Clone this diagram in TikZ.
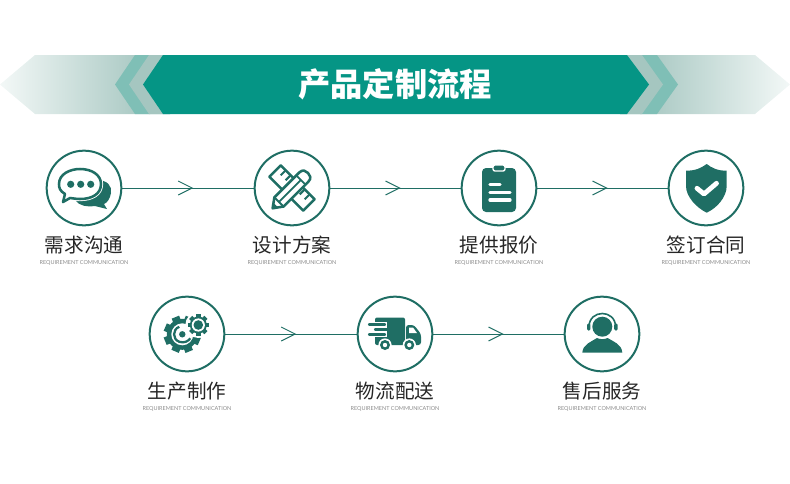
\documentclass[tikz,border=0pt]{standalone}
\usepackage{fontspec}
\setmainfont{Lato}
\newfontfamily\cjk{Noto Sans CJK SC}
\usetikzlibrary{positioning,arrows.meta,decorations.markings}
\definecolor{bannerteal}{HTML}{059585}
\definecolor{stepteal}{HTML}{1F6E64}
\definecolor{chevronone}{HTML}{7FBFB6}
\definecolor{chevrontwo}{HTML}{A5C6C0}
\definecolor{bannerpale}{HTML}{F3F8F7}
\definecolor{bannermid}{HTML}{E2EEEB}
\tikzset{
  stepcircle/.style={circle,draw=stepteal,line width=1.5pt,minimum size=56pt,inner sep=0pt},
  steplabel/.style={font=\cjk\fontsize{14.7pt}{15pt}\selectfont,text=black!85,inner sep=0pt},
  stepsub/.style={font=\fontsize{4.13pt}{4.5pt}\selectfont,text=black!45,inner sep=0pt},
  flowline/.style={draw=stepteal,line width=.65pt,postaction={decorate},decoration={markings,
    mark=at position .54 with {\arrow[line width=.75pt]{Straight Barb[length=10.5pt,width=10.5pt]}}}},
  iconfill/.style={fill=stepteal},
  iconline/.style={draw=stepteal,line width=1.9pt,fill=white,line join=round},
  iconcut/.style={draw=white,line width=2.5pt,line cap=round}
}
\begin{document}
\begin{tikzpicture}[x=.75pt,y=-.75pt]
\useasboundingbox (0,0) rectangle (790,483);

\shade[left color=bannerpale,middle color=bannermid,right color=chevrontwo] (0,84.5) -- (35,55) -- (150,55) -- (150,114) -- (35,114) -- cycle;
\shade[right color=bannerpale,middle color=bannermid,left color=chevrontwo] (790,84.5) -- (755,55) -- (640,55) -- (640,114) -- (755,114) -- cycle;
\fill[chevronone] (135,55) -- (115,84.5) -- (135,114) -- (170,114) -- (170,55) -- cycle;
\fill[chevrontwo] (149,55) -- (129,84.5) -- (149,114) -- (170,114) -- (170,55) -- cycle;
\fill[chevronone] (657,55) -- (678,84.5) -- (657,114) -- (620,114) -- (620,55) -- cycle;
\fill[chevrontwo] (642,55) -- (663,84.5) -- (642,114) -- (620,114) -- (620,55) -- cycle;
\fill[bannerteal] (163,55) -- (143,84.5) -- (163,114) -- (627,114) -- (649,84.5) -- (627,55) -- cycle;
\node (title) at (395,84.5) [text=white,inner sep=0pt,font=\cjk\bfseries\fontsize{24.2pt}{26pt}\selectfont] {产品定制流程};

\node (xuqiu) at (84,188) [stepcircle] {};
\node (sheji) at (292,188) [stepcircle] {};
\node (baojia) at (499,188) [stepcircle] {};
\node (hetong) at (706,188) [stepcircle] {};
\node (shengchan) at (187,334) [stepcircle] {};
\node (wuliu) at (395,334) [stepcircle] {};
\node (shouhou) at (602,334) [stepcircle] {};

\node (xuqiulabel) [steplabel,below=7pt of xuqiu] {需求沟通};
\node (shejilabel) [steplabel,below=7pt of sheji] {设计方案};
\node (baojialabel) [steplabel,below=7pt of baojia] {提供报价};
\node (hetonglabel) [steplabel,below=7pt of hetong] {签订合同};
\node (shengchanlabel) [steplabel,below=7pt of shengchan] {生产制作};
\node (wuliulabel) [steplabel,below=7pt of wuliu] {物流配送};
\node (shouhoulabel) [steplabel,below=7pt of shouhou] {售后服务};

\node (xuqiusub) [stepsub,below=4.2pt of xuqiulabel] {REQUIREMENT COMMUNICATION};
\node (shejisub) [stepsub,below=4.2pt of shejilabel] {REQUIREMENT COMMUNICATION};
\node (baojiasub) [stepsub,below=4.2pt of baojialabel] {REQUIREMENT COMMUNICATION};
\node (hetongsub) [stepsub,below=4.2pt of hetonglabel] {REQUIREMENT COMMUNICATION};
\node (shengchansub) [stepsub,below=4.2pt of shengchanlabel] {REQUIREMENT COMMUNICATION};
\node (wuliusub) [stepsub,below=4.2pt of wuliulabel] {REQUIREMENT COMMUNICATION};
\node (shouhousub) [stepsub,below=4.2pt of shouhoulabel] {REQUIREMENT COMMUNICATION};

\draw[flowline] (xuqiu) -- (sheji);
\draw[flowline] (sheji) -- (baojia);
\draw[flowline] (baojia) -- (hetong);
\draw[flowline] (shengchan) -- (wuliu);
\draw[flowline] (wuliu) -- (shouhou);

\begin{scope}[shift={(xuqiu.center)}]
  \fill[iconfill] (12,-8) .. controls (24,-8) and (28,-2) .. (27,5) .. controls (26,11) and (23,15) .. (20,16) -- (23,21) -- (11,18) .. controls (3,19) and (-5,18) .. (-9,12) -- cycle;
  \draw[white,line width=3.2pt,fill=white] (-25,-4) .. controls (-25,-14) and (-14,-19) .. (-4,-19) .. controls (8,-19) and (17,-13) .. (17,-4) .. controls (17,6) and (8,11) .. (-4,11) .. controls (-9,11) and (-12,10) .. (-14,10) -- (-21,14) -- (-19,6) .. controls (-24,3) and (-25,0) .. (-25,-4) -- cycle;
  \draw[iconline] (-25,-4) .. controls (-25,-14) and (-14,-19) .. (-4,-19) .. controls (8,-19) and (17,-13) .. (17,-4) .. controls (17,6) and (8,11) .. (-4,11) .. controls (-9,11) and (-12,10) .. (-14,10) -- (-21,14) -- (-19,6) .. controls (-24,3) and (-25,0) .. (-25,-4) -- cycle;
  \fill[iconfill] (-13.3,-3.7) circle[radius=3.6] (-3.3,-3.7) circle[radius=3.6] (6.7,-3.7) circle[radius=3.6];
\end{scope}

\begin{scope}[shift={(sheji.center)}]
  \begin{scope}[rotate=-45]
    \draw[iconline] (-24,-8) rectangle (24,8);
    \foreach \tick in {-17,-10,10,17}
      \draw[stepteal,line width=1.5pt] (\tick,-8) -- (\tick,-1);
  \end{scope}
  \begin{scope}[shift={(-1.7,2.6)},rotate=45]
    \draw[iconline] (-25,0) -- (-16,-6.5) -- (19,-6.5) .. controls (24,-6.5) and (25,-3) .. (25,0) .. controls (25,3) and (24,6.5) .. (19,6.5) -- (-16,6.5) -- cycle;
    \draw[stepteal,line width=1.4pt] (-16,-6.5) -- (-16,6.5) (15,-6.5) -- (15,6.5) (-16,0) -- (15,0);
    \fill[iconfill] (-25,0) -- (-20.5,-3.2) -- (-20.5,3.2) -- cycle;
  \end{scope}
\end{scope}

\begin{scope}[shift={(baojia.center)}]
  \fill[iconfill,rounded corners=3pt] (-17,-20) rectangle (17,24);
  \draw[white,fill=stepteal,line width=1pt,rounded corners=1.5pt] (-6,-23) rectangle (6,-17);
  \draw[iconcut] (-9,-3.7) -- (1,-3.7) (-9,4.3) -- (11,4.3) (-9,12) -- (11,12);
\end{scope}

\begin{scope}[shift={(hetong.center)}]
  \fill[iconfill] (-20,-17.3) .. controls (-10,-17.3) and (-5,-20) .. (0.7,-24) .. controls (6,-20) and (11,-17.3) .. (20.7,-17.3) -- (20.7,-2) .. controls (20.7,9) and (11,20) .. (0.7,24.7) .. controls (-9,20) and (-20,9) .. (-20,-2) -- cycle;
  \draw[white,line width=3.6pt,line cap=round,line join=round] (-9,.3) -- (-2,6) -- (10.5,-4.7);
\end{scope}

\begin{scope}[shift={(shengchan.center)}]
  \begin{scope}[shift={(-4.7,.3)}]
    \fill[iconfill] (0,0) circle[radius=15.5];
    \foreach \toothangle in {22,67,...,337} {
      \begin{scope}[rotate=\toothangle]
        \fill[iconfill] (13,-4) rectangle (18.5,4);
      \end{scope}
    }
    \fill[white] (0,0) circle[radius=11];
    \draw[stepteal,line width=1.7pt] (-3,-7.5) .. controls (-10,-5) and (-10,5) .. (-3,7.5) .. controls (2,9) and (6,7) .. (8,4);
    \fill[iconfill] (0,0) circle[radius=3.2];
  \end{scope}
  \begin{scope}[shift={(11.3,-9)}]
    \fill[white] (0,0) circle[radius=13];
    \fill[iconfill] (0,0) circle[radius=8.5];
    \foreach \toothangle in {0,45,...,315} {
      \begin{scope}[rotate=\toothangle]
        \fill[iconfill] (7,-2.2) rectangle (10.8,2.2);
      \end{scope}
    }
    \fill[white] (0,0) circle[radius=6.6];
    \fill[iconfill] (0,0) circle[radius=4.8];
  \end{scope}
\end{scope}

\begin{scope}[shift={(wuliu.center)}]
  \fill[iconfill,rounded corners=1.5pt] (-20,-16.5) rectangle (10,11);
  \fill[iconfill,rounded corners=2pt] (11,-9) -- (19,-9) -- (26,0) -- (26,11) -- (11,11) -- cycle;
  \fill[white] (14,-6.5) -- (18,-6.5) -- (22,-1) -- (14,-1) -- cycle;
  \draw[white,line width=6pt] (-27,-8) -- (-8,-8) (-27,-1.5) -- (-8,-1.5);
  \draw[stepteal,line width=1.7pt,line cap=round] (-26,-9.5) -- (-10,-9.5) (-20,-4.5) -- (-8,-4.5) (-26,.5) -- (-10,.5);
  \fill[white] (-10,11) circle[radius=6.6] (14.3,11) circle[radius=6.6];
  \fill[iconfill] (-10,11) circle[radius=5] (14.3,11) circle[radius=5];
  \fill[white] (-10,11) circle[radius=2.2] (14.3,11) circle[radius=2.2];
\end{scope}

\begin{scope}[shift={(shouhou.center)}]
  \fill[iconfill] (.3,-7.3) circle[radius=10];
  \draw[stepteal,line width=1.2pt] (-13,-7) .. controls (-13,-25) and (13.6,-25) .. (13.6,-7);
  \fill[iconfill,rounded corners=1pt] (-15,-10.5) rectangle (-11.6,-3.5) (12.2,-10.5) rectangle (15.6,-3.5);
  \fill[iconfill] (-19.7,18.7) .. controls (-19,10) and (-11,8) .. (-5,4) .. controls (-2,5.5) and (2.6,5.5) .. (5.6,4) .. controls (12,8) and (19.6,10) .. (20.3,18.7) -- cycle;
\end{scope}
\end{tikzpicture}
\end{document}
